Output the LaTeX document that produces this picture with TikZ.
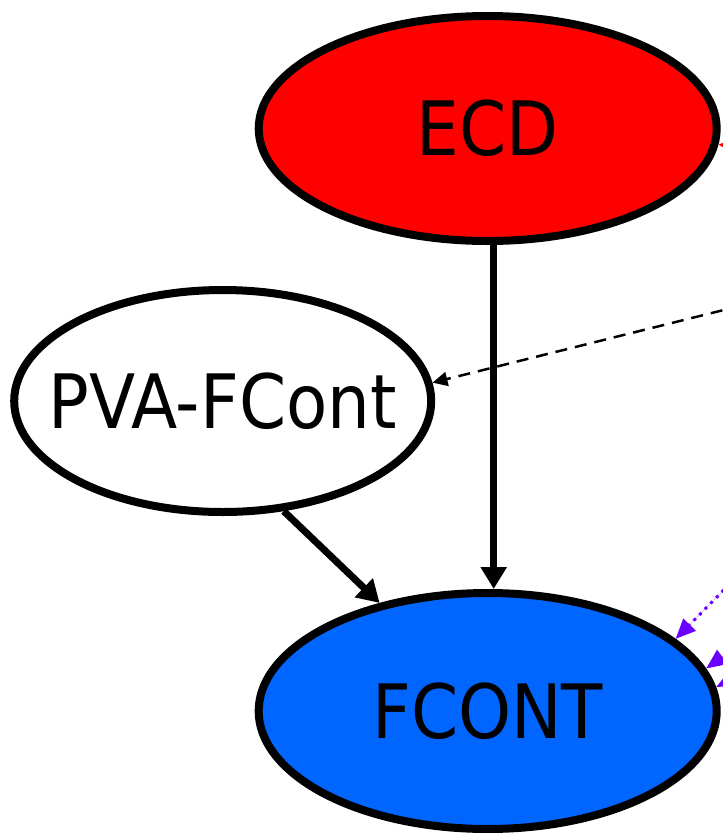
\documentclass[tikz,border=0pt]{standalone}
\usepackage{fontspec}
\setmainfont{DejaVu Sans}[FakeStretch=0.9]
\usetikzlibrary{shapes.geometric,arrows.meta}
\definecolor{ecdred}{HTML}{FF0000}
\definecolor{fblue}{HTML}{0066FF}
\definecolor{dotpurple}{HTML}{6A00FF}
\newcommand{\gtext}[1]{\makebox[0pt]{#1}}
\begin{document}
\begin{tikzpicture}[x=1pt,y=-1pt,
  gnode/.style={ellipse, draw=black, line width=8pt, inner sep=0pt,
    font=\fontsize{75}{80}\selectfont},
  solidedge/.style={draw=black, line width=7pt, -{Triangle[length=22pt,width=25pt]}},
  dashedge/.style={draw=black, line width=2.5pt, dash pattern=on 12pt off 8pt,
    -{Triangle[length=15pt,width=14pt]}},
  rededge/.style={draw=ecdred, line width=2.5pt, -{Triangle[length=15pt,width=14pt]}},
  dotedge/.style={draw=dotpurple, fill=dotpurple, line width=3pt, dash pattern=on 3pt off 5pt,
    -{Triangle[length=20pt,width=17pt]}}]
\useasboundingbox (0,0) rectangle (723,833);
\clip (0,0) rectangle (723,833);
\node[gnode, fill=ecdred, minimum width=458pt, minimum height=225pt] (ECD) at (487.7,128.5) {\gtext{ECD}};
\node[gnode, fill=white, minimum width=417pt, minimum height=222pt] (PVA) at (222.7,401) {\gtext{PVA-FCont}};
\node[gnode, fill=fblue, minimum width=458pt, minimum height=236pt] (FCONT) at (487.7,711) {\gtext{FCONT}};
\coordinate (r1) at (800,150);
\coordinate (d1) at (800,291);
\coordinate (p1) at (780,533);
\coordinate (p2) at (780,615);
\coordinate (p3) at (780,655);
\draw[solidedge] ([xshift=6pt]ECD.south) -- ([xshift=6pt]FCONT.north);
\draw[solidedge] (PVA.-61) -- (FCONT.135);
\draw[dashedge] (d1) -- (PVA.5);
\draw[rededge] (r1) -- (ECD.-4);
\draw[dotedge] (p1) -- (FCONT.21);
\draw[dotedge] (p2) -- (FCONT.11);
\draw[dotedge] (p3) -- (FCONT.6);
\end{tikzpicture}
\end{document}
